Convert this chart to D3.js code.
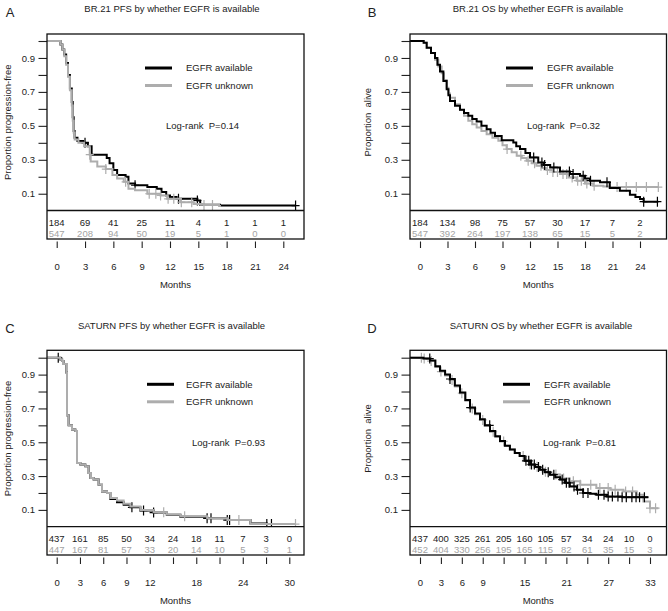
<!DOCTYPE html>
<html><head><meta charset="utf-8">
<script src="https://cdn.jsdelivr.net/npm/d3@7"></script>
<style>
body{margin:0;background:#fff}
svg{display:block}
text{font-family:"Liberation Sans",Arial,Helvetica,sans-serif;fill:#222;white-space:pre}
</style>
</head><body>
<svg id="chart" width="668" height="611"></svg>
<script>
// ---------- DATA ----------
const seriesNames = ["EGFR available", "EGFR unknown"];
const panelTitles = [
  "BR.21 PFS by whether EGFR is available",
  "BR.21 OS by whether EGFR is available",
  "SATURN PFS by whether EGFR is available",
  "SATURN OS by whether EGFR is available"
];
const panelLetters = ["A", "B", "C", "D"];
const yLabels = ["Proportion progression-free", "Proportion  alive", "Proportion progression-free", "Proportion  alive"];
const logRankP = ["Log-rank  P=0.14", "Log-rank  P=0.32", "Log-rank  P=0.93", "Log-rank  P=0.81"];
const yTicks = [0.1,0.2,0.3,0.4,0.5,0.6,0.7,0.8,0.9,1.0];
const yTickLabels = [0.1,0.3,0.5,0.7,0.9];

// Panel A: BR.21 PFS
const aTicks = [0,3,6,9,12,15,18,21,24];
const aTickLabels = [0,3,6,9,12,15,18,21,24];
const aAvailTime = [0,0.4,0.6,0.8,1.0,1.2,1.4,1.6,1.7,1.8,1.9,2.2,2.8,3.3,3.7,5.3,5.6,6.0,6.4,7.3,7.6,8.3,9.6,10.6,11.1,11.6,12.0,12.7,14.9,15.2,17.3];
const aAvailSurv = [1,0.98,0.95,0.92,0.87,0.80,0.72,0.64,0.55,0.47,0.43,0.41,0.40,0.38,0.33,0.31,0.28,0.24,0.21,0.20,0.16,0.15,0.14,0.13,0.11,0.09,0.08,0.07,0.06,0.035,0.03];
const aAvailEnd = 25.3;
const aAvailCens = [3.0,8.3,12.9,14.9,25.3];
const aUnkTime = [0,0.4,0.6,0.8,1.0,1.2,1.4,1.6,1.7,1.8,1.9,2.3,2.9,3.5,3.6,4.3,5.2,5.9,6.4,7.1,7.6,8.3,9.6,11.0,11.7,13.1,14.5,15.6,17.2];
const aUnkSurv = [1,0.98,0.95,0.91,0.86,0.79,0.71,0.62,0.53,0.46,0.42,0.40,0.38,0.33,0.29,0.26,0.245,0.21,0.19,0.17,0.13,0.12,0.10,0.09,0.07,0.05,0.04,0.033,0.028];
const aUnkEnd = 17.4;
const aUnkCens = [3.5,5.2,7.3,9.8,10.5,11.0,11.8,12.4,13.2,14.3,15.6,16.5];
const aRiskAvail = [184,69,41,25,11,4,1,1,1];
const aRiskUnk = [547,208,94,50,19,5,1,0,0];

// Panel B: BR.21 OS
const bTicks = [0,3,6,9,12,15,18,21,24];
const bTickLabels = [0,3,6,9,12,15,18,21,24];
const bAvailTime = [0,0.4,0.73,1.2,1.64,1.9,2.18,2.55,2.91,3.1,3.27,3.82,4.36,4.8,5.27,5.7,6.18,6.7,7.27,7.7,8.18,8.91,10.18,10.5,10.91,11.5,12.0,12.9,13.5,14.2,15.27,16.36,17.45,18.0,18.55,19.64,20.7,21.8,22.9,23.5,24.0,24.4];
const bAvailSurv = [1,0.99,0.96,0.93,0.90,0.86,0.82,0.765,0.716,0.68,0.647,0.618,0.595,0.575,0.56,0.54,0.525,0.50,0.48,0.46,0.44,0.415,0.402,0.38,0.363,0.34,0.314,0.284,0.27,0.255,0.231,0.216,0.206,0.19,0.177,0.167,0.134,0.118,0.094,0.08,0.069,0.053];
const bAvailEnd = 26.0;
const bAvailCens = [12.4,13.3,13.6,14.6,16.3,16.7,17.8,18.6,20.4,24.4,25.9];
const bUnkTime = [0,0.4,0.73,1.2,1.64,2.0,2.36,2.6,2.91,3.1,3.27,3.82,4.36,4.8,5.27,5.7,6.18,6.7,7.27,7.9,8.55,9.0,9.45,10.0,10.55,11.1,11.64,12.2,12.7,13.3,13.8,14.5,15.27,16.2,17.09,18.0,18.9,20.0,20.7];
const bUnkSurv = [1,0.99,0.96,0.93,0.89,0.85,0.81,0.77,0.725,0.69,0.666,0.627,0.594,0.56,0.53,0.51,0.49,0.47,0.45,0.43,0.412,0.385,0.363,0.345,0.324,0.31,0.294,0.28,0.265,0.252,0.24,0.228,0.216,0.196,0.177,0.16,0.147,0.142,0.139];
const bUnkEnd = 26.0;
const bUnkCens = [9.5,11.0,11.8,12.5,13.2,13.9,14.5,15.0,15.6,16.0,16.6,17.2,17.6,18.2,19.0,21.5,22.5,23.6,24.7,26.0];
const bRiskAvail = [184,134,98,75,57,30,17,7,2];
const bRiskUnk = [547,392,264,197,138,65,15,5,2];

// Panel C: SATURN PFS
const cTicks = [0,3,6,9,12,15,18,21,24,27,30];
const cTickLabels = [0,3,6,9,12,18,24,30];
const cAvailTime = [0,0.47,0.7,0.9,1.24,1.33,1.54,1.97,2.40,2.62,3.05,3.69,4.12,4.34,4.77,5.41,5.84,6.49,6.92,7.78,8.64,9.5,10.79,12.5,14.2,15.95,19.4,22.0,25.0,27.1];
const cAvailSurv = [1,0.99,0.98,0.963,0.913,0.66,0.60,0.576,0.566,0.378,0.368,0.358,0.318,0.289,0.279,0.249,0.209,0.20,0.165,0.145,0.13,0.115,0.096,0.084,0.071,0.06,0.05,0.04,0.02,0.016];
const cAvailEnd = 28.0;
const cAvailCens = [0.2,9.7,11.2,12.5,19.4,19.9,22.0,22.3,27.1,27.7];
const cUnkTime = [0,0.47,0.7,0.9,1.24,1.33,1.54,1.97,2.40,2.62,3.05,3.69,4.12,4.34,4.77,5.41,5.84,6.49,6.92,7.78,8.64,9.5,10.79,12.5,14.2,15.95,19.4,22.0,25.0];
const cUnkSurv = [1,0.99,0.98,0.963,0.913,0.66,0.60,0.576,0.566,0.378,0.368,0.358,0.318,0.289,0.279,0.249,0.209,0.20,0.17,0.155,0.136,0.12,0.1,0.086,0.073,0.062,0.05,0.04,0.016];
const cUnkEnd = 30.8;
const cUnkCens = [13.8,16.5,23.5,30.8];
const cRiskAvail = [437,161,85,50,34,24,18,11,7,3,0];
const cRiskUnk = [447,167,81,57,33,20,14,10,5,3,1];

// Panel D: SATURN OS
const dTicks = [0,3,6,9,12,15,18,21,24,27,30,33];
const dTickLabels = [0,3,6,9,15,21,27,33];
const dAvailTime = [0,0.5,1.43,2.2,2.87,3.6,4.3,5.0,5.74,6.5,7.17,7.9,8.61,9.3,10.04,10.8,11.48,12.2,12.9,13.6,14.3,15.0,15.8,16.5,17.2,17.9,18.65,19.4,20.1,20.8,21.5,22.5,23.4,24.4,25.3,26.8,29.0];
const dAvailSurv = [1,0.995,0.983,0.95,0.923,0.90,0.874,0.835,0.794,0.75,0.705,0.67,0.636,0.60,0.566,0.535,0.507,0.48,0.457,0.437,0.418,0.39,0.368,0.353,0.338,0.323,0.308,0.293,0.279,0.26,0.239,0.219,0.20,0.195,0.19,0.179,0.175];
const dAvailEnd = 32.76;
const dAvailCens = [1.4,4.3,7.2,10.0,15.2,15.6,16.0,16.4,17.0,17.6,18.4,19.2,20.4,21.0,21.4,22.1,22.6,23.4,24.1,25.6,26.4,27.0,27.6,28.4,29.0,29.6,30.4,31.0,31.5,32.2];
const dUnkTime = [0,0.5,1.43,2.2,2.87,3.6,4.3,5.0,5.74,6.5,7.17,7.9,8.61,9.3,10.04,10.8,11.48,12.2,12.9,13.6,14.3,15.0,15.8,16.5,17.2,17.9,18.65,20.1,21.5,23.0,25.3,27.3,29.2,31.1,32.05,33.0];
const dUnkSurv = [1,0.995,0.98,0.945,0.918,0.895,0.868,0.83,0.79,0.745,0.70,0.665,0.632,0.596,0.562,0.532,0.505,0.48,0.457,0.437,0.418,0.392,0.37,0.355,0.34,0.325,0.31,0.285,0.269,0.249,0.229,0.219,0.209,0.19,0.15,0.11];
const dUnkEnd = 34.2;
const dUnkCens = [0.2,0.6,1.6,3.0,4.6,6.0,7.5,9.0,10.5,12.0,14.8,15.8,16.8,18.0,19.5,20.6,22.0,23.0,24.5,25.8,27.0,28.0,29.5,30.5,33.0,33.8];
const dRiskAvail = [437,400,325,261,205,160,105,57,34,24,10,0];
const dRiskUnk = [452,404,330,256,195,165,115,82,61,35,15,3];

// ---------- LAYOUT (positions / styles only) ----------
const layout = [
  {left:47, right:304, top:34, sep:210.5, bottom:239, y0:210.7, y1:41, xMax:24, xAt0:56.7, xAtMax:283.3,
   titleX:172, letterX:10, ylabX:8, legX0:98, legX1:125, legTx:14, lrX:119, order:[0,1]},
  {left:410, right:666.5, top:34, sep:210.5, bottom:239, y0:210.7, y1:41, xMax:24, xAt0:420, xAtMax:640,
   titleX:538, letterX:372, ylabX:368, legX0:96, legX1:123, legTx:14, lrX:117, order:[1,0]},
  {left:47, right:304, top:350.3, sep:526.7, bottom:555, y0:526.8, y1:357.7, xMax:30, xAt0:56.7, xAtMax:289.3,
   titleX:171.5, letterX:10, ylabX:8, legX0:100, legX1:127, legTx:12, lrX:145, order:[0,1]},
  {left:410, right:666.5, top:350.3, sep:526.7, bottom:555, y0:526.8, y1:357.7, xMax:33, xAt0:420, xAtMax:650,
   titleX:541, letterX:372, ylabX:368, legX0:93, legX1:120, legTx:14, lrX:133, order:[1,0]}
];

const panelData = [
  {ticks:aTicks, tickLabels:aTickLabels, series:[
    {t:aAvailTime, s:aAvailSurv, end:aAvailEnd, cens:aAvailCens, risk:aRiskAvail},
    {t:aUnkTime, s:aUnkSurv, end:aUnkEnd, cens:aUnkCens, risk:aRiskUnk}]},
  {ticks:bTicks, tickLabels:bTickLabels, series:[
    {t:bAvailTime, s:bAvailSurv, end:bAvailEnd, cens:bAvailCens, risk:bRiskAvail},
    {t:bUnkTime, s:bUnkSurv, end:bUnkEnd, cens:bUnkCens, risk:bRiskUnk}]},
  {ticks:cTicks, tickLabels:cTickLabels, series:[
    {t:cAvailTime, s:cAvailSurv, end:cAvailEnd, cens:cAvailCens, risk:cRiskAvail},
    {t:cUnkTime, s:cUnkSurv, end:cUnkEnd, cens:cUnkCens, risk:cRiskUnk}]},
  {ticks:dTicks, tickLabels:dTickLabels, series:[
    {t:dAvailTime, s:dAvailSurv, end:dAvailEnd, cens:dAvailCens, risk:dRiskAvail},
    {t:dUnkTime, s:dUnkSurv, end:dUnkEnd, cens:dUnkCens, risk:dRiskUnk}]}
];

const lineColors = ["#000000", "#adadad"];
const riskColors = ["#222222", "#a3a3a3"];
const FS = "9.5px";

const svg = d3.select("#chart");

panelData.forEach((pd, i) => {
  const L = layout[i];
  const g = svg.append("g");
  const x = d3.scaleLinear().domain([0, L.xMax]).range([L.xAt0, L.xAtMax]);
  const y = d3.scaleLinear().domain([0, 1]).range([L.y0, L.y1]);
  const xStart = x.invert(L.left);

  const clipId = "clip" + i;
  svg.append("clipPath").attr("id", clipId).append("rect")
    .attr("x", L.left).attr("y", L.top).attr("width", L.right - L.left).attr("height", L.sep - L.top);

  // title & letter
  g.append("text").attr("x", L.titleX).attr("y", L.top - 25).attr("dy", "0.35em")
    .attr("text-anchor", "middle").style("font-size", FS).text(panelTitles[i]);
  g.append("text").attr("x", L.letterX).attr("y", L.top - 22).attr("dy", "0.36em")
    .attr("text-anchor", "middle").style("font-size", "13px").text(panelLetters[i]);

  // y axis
  const yAxis = d3.axisLeft(y).tickValues(yTicks).tickSize(8.5)
    .tickFormat(d => yTickLabels.some(v => Math.abs(v - d) < 1e-9) ? d3.format(".1f")(d) : "");
  const ya = g.append("g").attr("transform", `translate(${L.left},0)`).call(yAxis);
  ya.select(".domain").remove();
  ya.selectAll("line").attr("stroke", "#222").attr("stroke-width", 1.1);
  ya.selectAll("text").attr("x", -12).style("font-size", FS).style("font-family", '"Liberation Sans",Arial,sans-serif').attr("fill", "#222");

  g.append("text").attr("transform", `translate(${L.ylabX},${(L.top + L.sep) / 2}) rotate(-90)`)
    .attr("dy", "0.35em").attr("text-anchor", "middle").style("font-size", FS).text(yLabels[i]);

  // x axis below table
  const xAxis = d3.axisBottom(x).tickValues(pd.ticks).tickSize(6.5)
    .tickFormat(d => pd.tickLabels.includes(d) ? d : "");
  const xa = g.append("g").attr("transform", `translate(0,${L.bottom + 2.5})`).call(xAxis);
  xa.select(".domain").remove();
  xa.selectAll("line").attr("stroke", "#222").attr("stroke-width", 1.1);
  xa.selectAll("text").attr("y", 25.5).attr("dy", "0.35em").style("font-size", FS)
    .style("font-family", '"Liberation Sans",Arial,sans-serif').attr("fill", "#222");
  g.append("text").attr("x", (L.left + L.right) / 2).attr("y", L.bottom + 46).attr("dy", "0.35em")
    .attr("text-anchor", "middle").style("font-size", FS).text("Months");

  // curves
  const line = d3.line().x(d => x(d[0])).y(d => y(d[1])).curve(d3.curveStepAfter);
  const curves = g.append("g").attr("clip-path", `url(#${clipId})`);
  L.order.forEach(k => {
    const s = pd.series[k];
    const pts = [[xStart, s.s[0]]].concat(s.t.map((t, j) => [t, s.s[j]]));
    pts.push([s.end, s.s[s.s.length - 1]]);
    curves.append("path").attr("d", line(pts)).attr("fill", "none")
      .attr("stroke", lineColors[k]).attr("stroke-width", 2).attr("stroke-linejoin", "miter");
    const survAt = t => { let v = s.s[0]; for (let j = 0; j < s.t.length; j++) { if (s.t[j] <= t) v = s.s[j]; } return v; };
    s.cens.forEach(c => {
      const cx = x(c), cy = y(survAt(c));
      curves.append("line").attr("x1", cx).attr("x2", cx).attr("y1", cy - 5).attr("y2", cy + 5)
        .attr("stroke", lineColors[k]).attr("stroke-width", 1.2);
      curves.append("line").attr("x1", cx - 4).attr("x2", cx + 4).attr("y1", cy).attr("y2", cy)
        .attr("stroke", lineColors[k]).attr("stroke-width", 1.2);
    });
  });

  // legend
  [0, 1].forEach(k => {
    const ly = L.top + 34 + k * 17.5;
    g.append("line").attr("x1", L.left + L.legX0).attr("x2", L.left + L.legX1).attr("y1", ly).attr("y2", ly)
      .attr("stroke", lineColors[k]).attr("stroke-width", 3);
    g.append("text").attr("x", L.left + L.legX1 + L.legTx).attr("y", ly).attr("dy", "0.35em")
      .style("font-size", FS).text(seriesNames[k]);
  });
  g.append("text").attr("x", L.left + L.lrX).attr("y", L.top + 92).attr("dy", "0.35em")
    .style("font-size", FS).text(logRankP[i]);

  // at-risk table
  [0, 1].forEach(k => {
    const s = pd.series[k];
    g.selectAll(null).data(s.risk).enter().append("text")
      .attr("x", (d, j) => x(pd.ticks[j])).attr("y", L.sep + (k === 0 ? 12 : 23)).attr("dy", "0.35em")
      .attr("text-anchor", "middle").style("font-size", FS).style("fill", riskColors[k]).text(d => d);
  });

  // box
  g.append("rect").attr("x", L.left).attr("y", L.top).attr("width", L.right - L.left).attr("height", L.bottom - L.top)
    .attr("fill", "none").attr("stroke", "#111").attr("stroke-width", 1.3);
  g.append("line").attr("x1", L.left).attr("x2", L.right).attr("y1", L.sep).attr("y2", L.sep)
    .attr("stroke", "#111").attr("stroke-width", 1.3);
});
</script>
</body></html>
